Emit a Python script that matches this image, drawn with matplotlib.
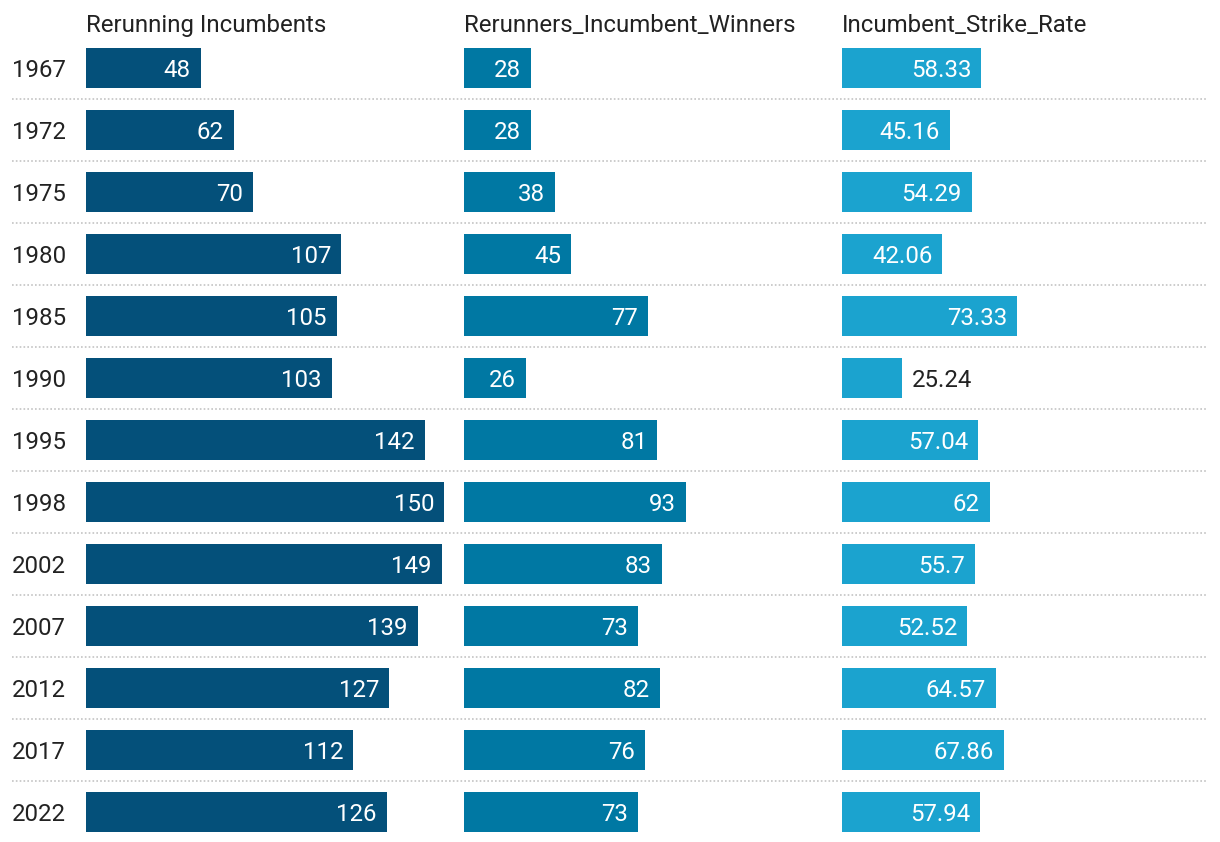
import matplotlib.pyplot as plt

years = ['1967', '1972', '1975', '1980', '1985', '1990', '1995', '1998',
         '2002', '2007', '2012', '2017', '2022']
rerunning_incumbents = [48, 62, 70, 107, 105, 103, 142, 150, 149, 139, 127, 112, 126]
incumbent_winners = [28, 28, 38, 45, 77, 26, 81, 93, 83, 73, 82, 76, 73]
strike_rate = [58.33, 45.16, 54.29, 42.06, 73.33, 25.24, 57.04, 62, 55.7, 52.52,
               64.57, 67.86, 57.94]
headers = ['Rerunning Incumbents', 'Rerunners_Incumbent_Winners', 'Incumbent_Strike_Rate']
colors = ['#04507a', '#0078a3', '#1ba3cf']

W, H = 1220, 842
FS = 17.3
plt.rcParams['font.family'] = ['Roboto', 'DejaVu Sans']
fig = plt.figure(figsize=(W / 100, H / 100), dpi=100)

n = len(years)
row_h = 62
top = 37
bot = top + row_h * n
px_per_unit = 358 / 150.0
col_left = [86, 464, 842]
col_w = 378

# background axes for separators and year labels
bg = fig.add_axes([0, 1 - bot / H, 1, row_h * n / H])
bg.set_xlim(0, W)
bg.set_ylim(n - 0.5, -0.5)
bg.axis('off')
for i in range(n - 1):
    bg.axhline(i + 0.5, xmin=12 / W, xmax=1208 / W, color='#c4c4c4',
               lw=1.2, ls=(0, (1, 1.3)))
for i, yr in enumerate(years):
    bg.text(12, i, yr, ha='left', va='center_baseline', fontsize=FS, color='#222222')

series = [rerunning_incumbents, incumbent_winners, strike_rate]
for k, vals in enumerate(series):
    ax = fig.add_axes([col_left[k] / W, 1 - bot / H, col_w / W, row_h * n / H])
    ax.set_xlim(0, col_w / px_per_unit)
    ax.set_ylim(n - 0.5, -0.5)
    ax.axis('off')
    ax.barh(range(n), vals, height=40 / row_h, color=colors[k])
    pad = 10 / px_per_unit
    for i, v in enumerate(vals):
        lab = f'{v:g}'
        if v * px_per_unit < len(lab) * 12 + 10:
            ax.text(v + pad, i, lab, ha='left', va='center_baseline', fontsize=FS,
                    color='#222222')
        else:
            ax.text(v - pad, i, lab, ha='right', va='center_baseline', fontsize=FS,
                    color='white')
    fig.text(col_left[k] / W, 1 - 32 / H, headers[k], ha='left', va='baseline',
             fontsize=FS, color='#222222')

fig.savefig('out.png', dpi=100)
